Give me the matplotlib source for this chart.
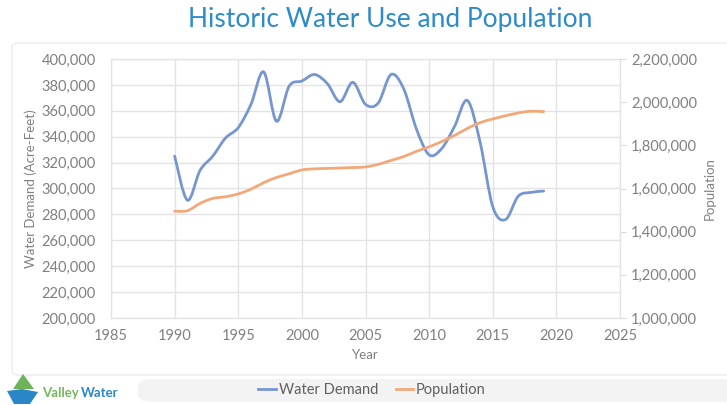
import matplotlib
matplotlib.use("Agg")
import matplotlib.pyplot as plt
from matplotlib.path import Path
from matplotlib.patches import PathPatch, FancyBboxPatch, Polygon
from matplotlib.lines import Line2D
from matplotlib.ticker import FuncFormatter, MultipleLocator

plt.rcParams['font.family'] = ['Lato', 'DejaVu Sans']

# --- data ---
years = list(range(1990, 2020))
water_demand = [325000, 291000, 314000, 325000, 339000, 347000, 365000, 390000,
                352000, 379000, 383000, 388000, 381000, 367000, 382000, 365000,
                366000, 388000, 377000, 346000, 326000, 331000, 348000, 368000,
                336000, 286000, 276000, 294000, 297000, 298000]
population = [1495000, 1497000, 1531000, 1554000, 1562000, 1575000, 1597000, 1627000,
              1651000, 1668000, 1686000, 1691000, 1693000, 1695000, 1697000, 1700000,
              1712000, 1730000, 1748000, 1772000, 1793000, 1818000, 1846000, 1878000,
              1905000, 1922000, 1937000, 1950000, 1958000, 1956000]

BLUE = '#7596d0'
ORANGE = '#f2a878'
GRAY_TXT = '#808080'
GRID = '#e3e3e3'


def smooth_path(xs, ys):
    # excel style smoothed line: cubic bezier through every point
    n = len(xs)
    verts = [(xs[0], ys[0])]
    codes = [Path.MOVETO]
    for i in range(n - 1):
        x0, y0 = xs[max(i - 1, 0)], ys[max(i - 1, 0)]
        x1, y1 = xs[i], ys[i]
        x2, y2 = xs[i + 1], ys[i + 1]
        x3, y3 = xs[min(i + 2, n - 1)], ys[min(i + 2, n - 1)]
        c1 = (x1 + (x2 - x0) / 6.0, y1 + (y2 - y0) / 6.0)
        c2 = (x2 - (x3 - x1) / 6.0, y2 - (y3 - y1) / 6.0)
        verts += [c1, c2, (x2, y2)]
        codes += [Path.CURVE4] * 3
    return Path(verts, codes)


fig = plt.figure(figsize=(7.27, 4.05), dpi=100)

# chart frame + legend band (behind everything)
fig.patches.append(FancyBboxPatch((12 / 727, 30 / 405), 740 / 727, 332 / 405,
                                  boxstyle='round,pad=0,rounding_size=0.01',
                                  transform=fig.transFigure, fc='white',
                                  ec='#ececec', lw=1.0, zorder=-5))
fig.patches.append(FancyBboxPatch((138 / 727, 3 / 405), 600 / 727, 23 / 405,
                                  boxstyle='round,pad=0,rounding_size=0.02',
                                  transform=fig.transFigure, fc='#f3f3f3',
                                  ec='none', zorder=-5))

ax = fig.add_axes([111 / 727, 1 - 318 / 405, 509 / 727, 259 / 405])
ax2 = ax.twinx()

ax.set_xlim(1985, 2025)
ax.set_ylim(200000, 400000)
ax2.set_ylim(1000000, 2200000)
ax.xaxis.set_major_locator(MultipleLocator(5))
ax.yaxis.set_major_locator(MultipleLocator(20000))
ax2.yaxis.set_major_locator(MultipleLocator(200000))

fmt = FuncFormatter(lambda v, p: f'{int(v):,}')
ax.yaxis.set_major_formatter(fmt)
ax2.yaxis.set_major_formatter(fmt)

ax.grid(True, color=GRID, lw=1.0)
ax.set_axisbelow(True)
for a in (ax, ax2):
    for s in a.spines.values():
        s.set_color(GRID)
    a.tick_params(colors=GRAY_TXT, labelsize=10.5)
    a.set_facecolor('none')
ax.tick_params(axis='y', length=0, pad=11)
ax.tick_params(axis='x', length=0, pad=8)
ax2.tick_params(axis='y', length=4, color='#d9d9d9', pad=4)

ax.add_patch(PathPatch(smooth_path(years, water_demand), fill=False,
                       ec=BLUE, lw=2.0, capstyle='round', zorder=3))
ax2.add_patch(PathPatch(smooth_path(years, population), fill=False,
                        ec=ORANGE, lw=2.0, capstyle='round', zorder=3))

ax.set_xlabel('Year', color=GRAY_TXT, fontsize=9.5, labelpad=4)
ax.set_ylabel('Water Demand (Acre-Feet)', color=GRAY_TXT, fontsize=9.5, labelpad=3)
ax2.set_ylabel('Population', color=GRAY_TXT, fontsize=9.5, labelpad=5)

fig.text(390 / 727, 1 - 20 / 405, 'Historic Water Use and Population',
         ha='center', va='center', fontsize=19, color='#2e8bcb')

handles = [Line2D([], [], color=BLUE, lw=2), Line2D([], [], color=ORANGE, lw=2)]
fig.legend(handles, ['Water Demand', 'Population'], loc='center',
           bbox_to_anchor=(372 / 727, 1 - 390 / 405), ncol=2, frameon=False,
           fontsize=10.5, labelcolor='#606060', handlelength=1.2,
           handletextpad=0.2, columnspacing=1.2)

# Valley Water logo (rough)
fig.patches.append(Polygon([(13 / 727, 1 - 389 / 405), (23 / 727, 1 - 374 / 405),
                            (34 / 727, 1 - 389 / 405)], closed=True,
                           transform=fig.transFigure, fc='#6db35a', ec='none'))
fig.patches.append(Polygon([(7 / 727, 1 - 391 / 405), (22 / 727, 1 - 389 / 405),
                            (38 / 727, 1 - 392 / 405), (30 / 727, 1 - 404 / 405),
                            (14 / 727, 1 - 404 / 405)], closed=True,
                           transform=fig.transFigure, fc='#2b86c8', ec='none'))
fig.text(42 / 727, 1 - 393 / 405, 'Valley', color='#78b65c', fontsize=9.5,
         fontweight='bold', va='center', ha='left')
fig.text(81 / 727, 1 - 393 / 405, 'Water', color='#2b86c8', fontsize=9.5,
         fontweight='bold', va='center', ha='left')

fig.savefig('out.png', dpi=100)
